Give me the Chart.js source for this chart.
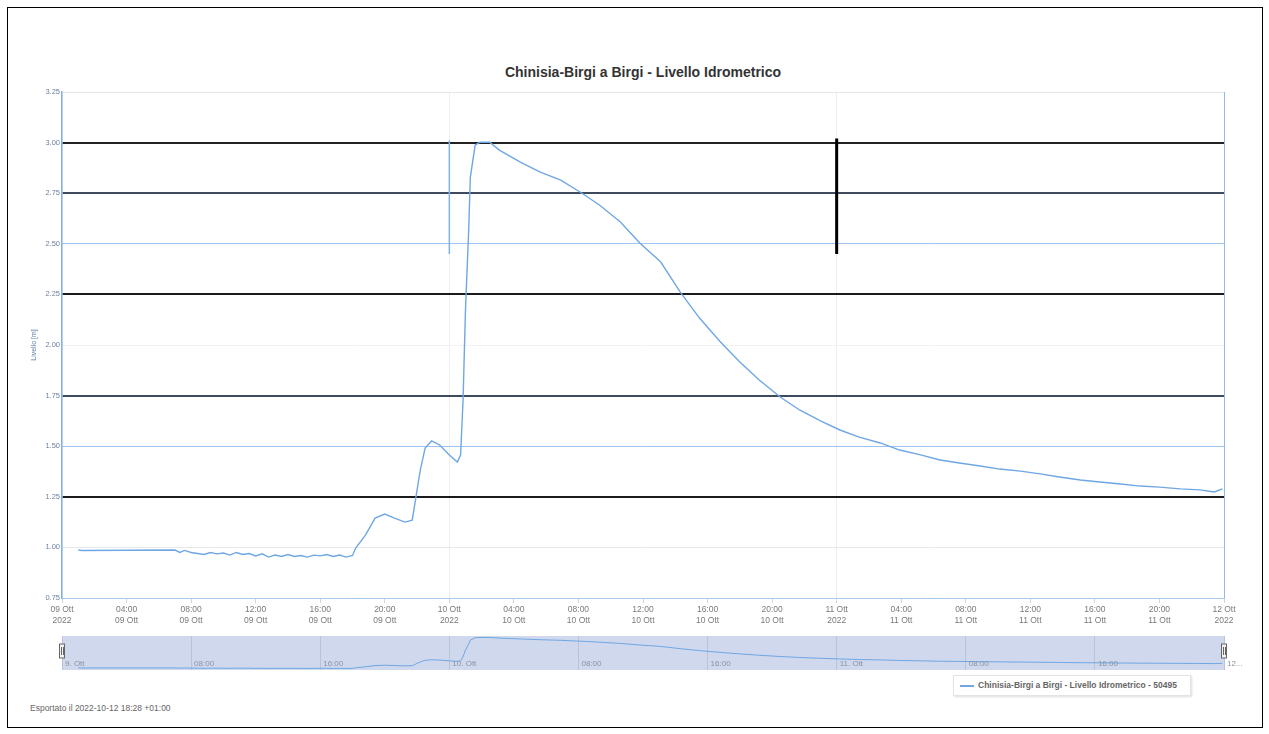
<!DOCTYPE html>
<html lang="it">
<head>
    <meta charset="UTF-8">
    <title>Chinisia-Birgi a Birgi - Livello Idrometrico</title>
    <script src="https://cdn.jsdelivr.net/npm/chart.js"></script>
    <style>
        body { margin: 0; background: #fff; font-family: "Liberation Sans", Arial, sans-serif; }
        .page { position: relative; width: 1269px; height: 734px; }
        .frame { position: absolute; left: 7px; top: 7px; width: 1254px; height: 719px; border: 1px solid #000; }
        .title { position: absolute; left: 62px; width: 1162px; top: 64px; text-align: center; font-size: 14px; font-weight: bold; color: #333; }
        #mainWrap { position: absolute; left: 0; top: 84px; width: 1269px; height: 560px; }
        #navWrap { position: absolute; left: 0; top: 636px; width: 1269px; height: 34px; }
        .legend { position: absolute; left: 953px; top: 675px; width: 236px; height: 19px; border: 1px solid #e3e3e3; box-shadow: 1px 1px 2px #ddd; font-size: 8.5px; font-weight: bold; color: #666; line-height: 19px; white-space: nowrap; }
        .legend i { display: inline-block; width: 14px; height: 2px; background: #6fa7e4; vertical-align: middle; margin: 0 4px 0 6px; }
        .footer { position: absolute; left: 30px; top: 703px; font-size: 8.5px; color: #666; }
    </style>
</head>
<body>
<div class="page">
    <div class="frame"></div>
    <div class="title">Chinisia-Birgi a Birgi - Livello Idrometrico</div>
    <div id="mainWrap"><canvas id="levelChart"></canvas></div>
    <div id="navWrap"><canvas id="navChart"></canvas></div>
    <div class="legend"><i></i>Chinisia-Birgi a Birgi - Livello Idrometrico - 50495</div>
    <div class="footer">Esportato il 2022-10-12 18:28 +01:00</div>
</div>

<script>
    // hours since 09 Ott 2022 00:00
    const hours = [
        1.0, 1.2, 7.0, 7.3, 7.6, 8.0, 8.4, 8.8, 9.2, 9.6, 10.0, 10.4, 10.8, 11.2, 11.6,
        12.0, 12.4, 12.8, 13.2, 13.6, 14.0, 14.4, 14.8, 15.2, 15.6, 16.0, 16.4, 16.8, 17.2,
        17.6, 18.0, 18.2, 18.8, 19.4, 20.0, 20.6, 21.25, 21.7, 21.9, 22.2, 22.5, 22.9, 23.4,
        24.0, 24.5, 24.7, 24.85, 25.0, 25.2, 25.3, 25.6, 25.9, 26.5, 27.1, 28.4, 29.6, 30.9,
        32.1, 33.3, 34.6, 35.8, 37.1, 38.3, 39.5, 40.8, 42.0, 43.2, 44.5, 45.7, 47.0, 48.2,
        49.4, 50.7, 51.9, 53.2, 54.4, 55.6, 56.9, 58.1, 59.4, 60.6, 61.8, 63.1, 64.3, 65.6,
        66.8, 68.0, 69.3, 70.5, 71.4, 71.9
    ];
    // livello idrometrico (m)
    const level = [
        0.988, 0.985, 0.987, 0.975, 0.985, 0.975, 0.970, 0.965, 0.975, 0.968, 0.972, 0.962, 0.975, 0.965, 0.970,
        0.958, 0.968, 0.952, 0.962, 0.955, 0.965, 0.955, 0.960, 0.952, 0.962, 0.958, 0.965, 0.955, 0.962,
        0.952, 0.960, 0.997, 1.061, 1.145, 1.165, 1.145, 1.125, 1.135, 1.234, 1.382, 1.491, 1.526, 1.506,
        1.457, 1.422, 1.457, 1.728, 2.173, 2.568, 2.828, 2.988, 3.002, 3.002, 2.963, 2.904, 2.855, 2.815,
        2.756, 2.692, 2.608, 2.504, 2.410, 2.262, 2.133, 2.015, 1.916, 1.827, 1.743, 1.679, 1.625, 1.580,
        1.545, 1.516, 1.481, 1.457, 1.432, 1.417, 1.402, 1.387, 1.377, 1.363, 1.348, 1.333, 1.323, 1.313,
        1.303, 1.298, 1.289, 1.284, 1.274, 1.289
    ];
    // the two short vertical marks at the day changes
    const markBlue = [[24, 3.01], [24, 2.45]];
    const markBlack = [[48, 3.02], [48, 2.45]];

    const dayNames = ['09 Ott', '10 Ott', '11 Ott', '12 Ott'];
    const navLabels = ['9. Ott', '08:00', '16:00', '10. Ott', '08:00', '16:00', '11. Ott', '08:00', '16:00', '12...'];

    // grid line style per y tick value
    const yGridColor = { '3.25': '#e6e6e6', '3': '#222222', '2.75': '#3e4b5e', '2.5': '#9dc3ee', '2.25': '#1b1b1b',
        '2': '#f2f2f2', '1.75': '#3e4b5e', '1.5': '#9dc3ee', '1.25': '#1b1b1b', '1': '#e8e8e8', '0.75': '#8fbbe8' };
    const yGridWidth = { '3': 2, '2.75': 2, '2.25': 2, '1.75': 2, '1.25': 2 };

    const points = hours.map((h, i) => ({ x: h, y: level[i] }));

    function xLabel(h) {
        if (h % 24 === 0) return [dayNames[h / 24], '2022'];
        const hh = String(h % 24).padStart(2, '0') + ':00';
        return [hh, dayNames[Math.floor(h / 24)]];
    }

    new Chart(document.getElementById('levelChart'), {
        type: 'line',
        data: {
            datasets: [{
                data: points,
                borderColor: '#6fa7e4',
                borderWidth: 1.4,
                pointRadius: 0,
                tension: 0
            }, {
                data: markBlue.map(p => ({ x: p[0], y: p[1] })),
                borderColor: '#7fb2ea',
                borderWidth: 1.5,
                pointRadius: 0
            }, {
                data: markBlack.map(p => ({ x: p[0], y: p[1] })),
                borderColor: '#000',
                borderWidth: 3,
                pointRadius: 0
            }]
        },
        options: {
            responsive: true,
            maintainAspectRatio: false,
            animation: false,
            layout: { padding: { top: 8, right: 45, bottom: 6, left: 0 } },
            plugins: { legend: { display: false }, tooltip: { enabled: false } },
            scales: {
                x: {
                    type: 'linear',
                    min: 0, max: 72,
                    afterFit: s => { s.height = 40; },
                    ticks: {
                        stepSize: 4,
                        autoSkip: false,
                        maxRotation: 0,
                        color: '#7a7a7a',
                        font: { size: 8.5 },
                        padding: 2,
                        callback: v => xLabel(v)
                    },
                    grid: {
                        color: c => c.tick.value === 72 ? '#8fbbe8' : (c.tick.value % 24 === 0 ? '#eeeeee' : 'rgba(0,0,0,0)'),
                        tickColor: '#ccd6eb',
                        tickLength: 5
                    },
                    border: { color: '#a9c8ee' }
                },
                y: {
                    min: 0.75, max: 3.25,
                    afterFit: s => { s.width = 62; },
                    title: { display: true, text: 'Livello [m]', color: '#5b7fa8', font: { size: 7 }, padding: { top: 30, bottom: 0 } },
                    ticks: {
                        stepSize: 0.25,
                        color: '#6b819c',
                        font: { size: 7.5 },
                        padding: 2,
                        callback: v => v.toFixed(2)
                    },
                    grid: {
                        color: c => yGridColor[String(c.tick.value)] || '#eeeeee',
                        lineWidth: c => yGridWidth[String(c.tick.value)] || 1,
                        drawTicks: false
                    },
                    border: { color: '#7fb0e6', width: 1.5 }
                }
            }
        }
    });

    // navigator strip
    const navDecor = {
        id: 'navDecor',
        beforeDraw(chart) {
            const a = chart.chartArea, ctx = chart.ctx;
            ctx.save();
            ctx.fillStyle = '#cfd8ec';
            ctx.fillRect(a.left, a.top, a.right - a.left, a.bottom - a.top);
            ctx.restore();
        },
        afterDraw(chart) {
            const a = chart.chartArea, ctx = chart.ctx, sx = chart.scales.x;
            ctx.save();
            ctx.font = '8px "Liberation Sans", Arial, sans-serif';
            ctx.fillStyle = '#8a93a6';
            ctx.textBaseline = 'alphabetic';
            navLabels.forEach((t, i) => {
                ctx.fillText(t, sx.getPixelForValue(i * 8) + 3, a.bottom - 4);
            });
            [sx.min, sx.max].forEach(v => {
                const px = sx.getPixelForValue(v);
                ctx.fillStyle = '#f2f2f2';
                ctx.strokeStyle = '#666';
                ctx.lineWidth = 1;
                ctx.fillRect(px - 2.5, a.top + 8, 5, 14);
                ctx.strokeRect(px - 2.5, a.top + 8, 5, 14);
                ctx.beginPath();
                ctx.moveTo(px - 0.5, a.top + 11); ctx.lineTo(px - 0.5, a.top + 19);
                ctx.moveTo(px + 1.5, a.top + 11); ctx.lineTo(px + 1.5, a.top + 19);
                ctx.stroke();
            });
            ctx.restore();
        }
    };

    new Chart(document.getElementById('navChart'), {
        type: 'line',
        data: {
            datasets: [{
                data: points,
                borderColor: '#6fa7e4',
                borderWidth: 1,
                pointRadius: 0,
                tension: 0
            }]
        },
        options: {
            responsive: true,
            maintainAspectRatio: false,
            animation: false,
            layout: { padding: { top: 0, right: 45, bottom: 0, left: 62 } },
            plugins: { legend: { display: false }, tooltip: { enabled: false } },
            scales: {
                x: {
                    type: 'linear', min: 0, max: 72, display: true,
                    afterFit: s => { s.height = 0; },
                    ticks: { stepSize: 8, display: false },
                    grid: { color: '#b9c3da', drawTicks: false },
                    border: { display: false }
                },
                y: { display: false, min: 0.85, max: 3.1 }
            }
        },
        plugins: [navDecor]
    });
</script>
</body>
</html>
